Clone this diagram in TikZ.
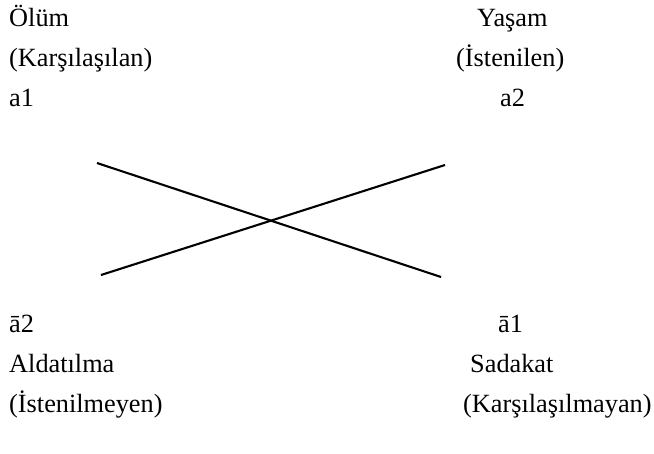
\documentclass[tikz,border=0pt]{standalone}
\usepackage{fontspec}
\setmainfont{Liberation Serif}
\usepackage{tikz}

\begin{document}
\begin{tikzpicture}[
    x=1pt,y=-1pt,
    term/.style={
      anchor=base west,
      inner sep=0pt,
      font=\fontsize{26.3}{30}\selectfont
    },
    cross/.style={line width=2.1pt}
  ]
    \useasboundingbox (0,0) rectangle (654,453);
    % left column
    \node[term] (olum) at (9,26) {Ölüm};
    \node[term] (karsilasilan) at (9,66) {(Karşılaşılan)};
    \node[term] (aone) at (9,106) {a1};
    \node[term] (abartwo) at (9,332) {ā2};
    \node[term] (aldatilma) at (9,372) {Aldatılma};
    \node[term] (istenilmeyen) at (9,412) {(İstenilmeyen)};
    % right column
    \node[term] (yasam) at (477,26) {Yaşam};
    \node[term] (istenilen) at (456,66) {(İstenilen)};
    \node[term] (atwo) at (500,106) {a2};
    \node[term] (abarone) at (498,332) {ā1};
    \node[term] (sadakat) at (470,372) {Sadakat};
    \node[term] (karsilasilmayan) at (463,412) {(Karşılaşılmayan)};
    % cross
    \coordinate (topleft) at (97,163);
    \coordinate (botright) at (441,277);
    \coordinate (botleft) at (101,275);
    \coordinate (topright) at (445,165);
    \draw[cross] (topleft) -- (botright);
    \draw[cross] (botleft) -- (topright);
  \end{tikzpicture}
\end{document}
